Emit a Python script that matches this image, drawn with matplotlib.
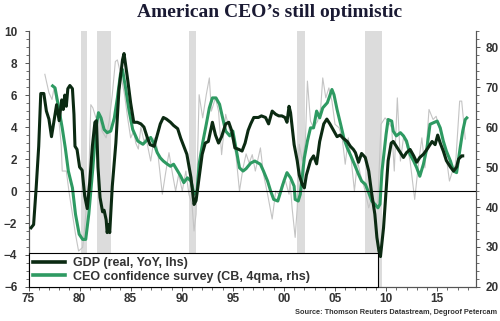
import matplotlib
matplotlib.use("Agg")
import matplotlib.pyplot as plt
from matplotlib.ticker import MultipleLocator, FuncFormatter

plt.rcParams["font.family"] = ["Liberation Sans", "DejaVu Sans"]

# --- dati -------------------------------------------------------------------
# PIL reale USA, variazione a/a (%), asse sinistro
gdp_year = [1975.25, 1975.5, 1975.75, 1976.0, 1976.2, 1976.5, 1976.75, 1977.0, 1977.25,
            1977.5, 1977.75, 1978.0, 1978.25, 1978.4, 1978.55, 1978.7, 1978.85, 1979.05,
            1979.3, 1979.45, 1979.55, 1979.75, 1980.0, 1980.25, 1980.5, 1980.75, 1981.0,
            1981.25, 1981.5, 1981.65, 1981.8, 1982.0, 1982.25, 1982.4, 1982.6, 1982.7,
            1982.85, 1982.95, 1983.2, 1983.55, 1983.85, 1984.2, 1984.35, 1984.7, 1985.0,
            1985.3, 1985.65, 1986.0, 1986.3, 1986.6, 1986.9, 1987.3, 1987.6, 1987.9,
            1988.2, 1988.5, 1988.9, 1989.2, 1989.6, 1989.9, 1990.2, 1990.5, 1990.9,
            1991.2, 1991.4, 1991.7, 1992.0, 1992.3, 1992.6, 1993.0, 1993.3, 1993.6,
            1993.9, 1994.3, 1994.6, 1994.9, 1995.2, 1995.6, 1995.9, 1996.2, 1996.5,
            1996.75, 1997.05, 1997.5, 1997.8, 1998.2, 1998.5, 1998.85, 1999.2, 1999.5,
            1999.8, 2000.1, 2000.3, 2000.5, 2000.65, 2001.0, 2001.3, 2001.5, 2001.8,
            2002.0, 2002.2, 2002.6, 2002.9, 2003.2, 2003.5, 2003.9, 2004.2, 2004.5,
            2004.9, 2005.2, 2005.5, 2005.8, 2006.2, 2006.5, 2006.8, 2007.0, 2007.3,
            2007.6, 2007.96, 2008.3, 2008.6, 2008.9, 2009.1, 2009.3, 2009.45, 2009.75,
            2010.0, 2010.2, 2010.5, 2010.7, 2011.0, 2011.4, 2011.7, 2012.0, 2012.35,
            2012.7, 2013.0, 2013.3, 2013.65, 2014.0, 2014.3, 2014.5, 2014.8, 2015.05,
            2015.3, 2015.6, 2015.9, 2016.3, 2016.6, 2016.9, 2017.1, 2017.4, 2017.5]
gdp_val = [-2.3, -2.1, 0.2, 2.8, 6.1, 6.1, 5.0, 4.5, 3.4,
           4.4, 5.4, 4.4, 5.7, 5.1, 6.0, 5.3, 6.4, 6.6,
           6.4, 4.8, 2.8, 2.6, 1.5, 1.3, -0.3, -1.1, 0.6,
           2.8, 4.3, 4.4, 1.5, -0.4, -1.3, -1.2, -1.8, -2.6,
           -2.1, -2.6, 0.3, 3.0, 6.3, 8.2, 8.6, 7.0, 5.5,
           4.3, 4.3, 4.2, 4.0, 3.4, 2.9, 2.8, 3.5, 4.2,
           4.6, 4.5, 4.3, 4.1, 3.9, 3.3, 2.8, 2.3, 0.85,
           -0.84, -0.6, 0.85, 2.3, 3.0, 3.1, 4.3, 3.5, 3.0,
           3.4, 4.2, 4.3, 3.75, 2.7, 2.6, 2.5, 3.0, 3.8,
           4.2, 4.6, 4.6, 4.7, 4.6, 4.2, 5.0, 4.8, 4.7,
           4.7, 4.6, 4.3, 5.3, 4.9, 2.9, 1.9, 1.0, 0.4,
           0.2, 1.0, 1.9, 2.2, 1.7, 3.1, 4.2, 4.5, 4.2,
           3.75, 3.4, 3.5, 3.3, 3.1, 2.8, 2.6, 2.4, 1.8,
           2.35, 2.1, 1.25, -0.2, -1.45, -2.9, -3.75, -4.1, -2.3,
           0.0, 1.9, 3.0, 3.1, 2.8, 2.4, 2.1, 2.4, 2.6,
           2.2, 1.8, 2.1, 2.3, 2.6, 2.9, 3.1, 2.9, 3.5,
           3.0, 2.5, 1.9, 1.5, 1.25, 1.5, 2.0, 2.2, 2.2]

# CEO confidence (Conference Board), media mobile 4 trimestri, asse destro
ceo_ma_year = [1977.36, 1977.6, 1977.9, 1978.3, 1978.6, 1978.9, 1979.3, 1979.6, 1979.96,
               1980.3, 1980.6, 1980.9, 1981.3, 1981.6, 1981.85, 1982.1, 1982.4, 1982.7,
               1983.05, 1983.4, 1983.7, 1984.0, 1984.2, 1984.5, 1984.85, 1985.2, 1985.7,
               1986.2, 1986.5, 1986.96, 1987.3, 1987.6, 1987.9, 1988.2, 1988.6, 1988.9,
               1989.2, 1989.6, 1989.9, 1990.2, 1990.55, 1990.9, 1991.2, 1991.5, 1991.7,
               1992.05, 1992.4, 1992.7, 1993.0, 1993.35, 1993.7, 1994.0, 1994.3, 1994.7,
               1995.0, 1995.3, 1995.65, 1996.0, 1996.3, 1996.75, 1997.15, 1997.7, 1998.0,
               1998.4, 1998.7, 1999.0, 1999.4, 1999.7, 2000.0, 2000.3, 2000.65, 2001.0,
               2001.1, 2001.4, 2001.6, 2002.0, 2002.3, 2002.6, 2002.9, 2003.2, 2003.5,
               2003.8, 2004.25, 2004.7, 2004.9, 2005.2, 2005.55, 2005.9, 2006.2, 2006.5,
               2006.9, 2007.3, 2007.6, 2007.96, 2008.3, 2008.6, 2008.9, 2009.2, 2009.4,
               2009.6, 2010.0, 2010.2, 2010.55, 2010.7, 2011.0, 2011.4, 2011.7, 2012.0,
               2012.35, 2012.7, 2013.0, 2013.3, 2013.65, 2014.0, 2014.3, 2014.65, 2015.0,
               2015.3, 2015.6, 2015.9, 2016.3, 2016.6, 2016.9, 2017.25, 2017.5, 2017.75,
               2017.9]
ceo_ma_val = [70.3, 69.8, 65.6, 59.8, 54.8, 49.0, 44.8, 38.2, 33.2,
              31.9, 31.9, 38.2, 49.8, 59.8, 63.6, 62.3, 59.4, 58.6,
              59.0, 62.3, 67.3, 73.2, 74.4, 69.8, 64.0, 59.4, 56.5,
              55.7, 56.5, 57.4, 55.7, 53.6, 52.3, 51.5, 50.7, 50.2,
              50.7, 49.0, 47.7, 46.1, 47.3, 46.5, 43.2, 44.0, 50.7,
              56.1, 60.7, 64.8, 67.3, 67.3, 65.7, 62.3, 59.0, 57.8,
              59.0, 54.8, 49.8, 49.0, 49.6, 51.0, 51.5, 50.7, 49.0,
              46.5, 44.0, 41.9, 41.5, 44.0, 46.5, 48.6, 47.3, 45.2,
              41.9, 41.5, 43.2, 52.3, 56.5, 59.8, 59.8, 64.0, 62.3,
              64.8, 66.1, 69.4, 68.1, 64.4, 60.7, 56.9, 54.8, 53.1,
              50.7, 48.2, 46.5, 45.7, 43.6, 41.5, 40.7, 39.8, 40.7,
              49.0, 58.2, 61.9, 61.5, 59.0, 57.8, 58.6, 57.8, 56.5,
              53.1, 51.5, 49.8, 47.7, 50.7, 54.8, 60.7, 61.1, 61.5,
              59.8, 56.5, 54.0, 51.5, 49.0, 48.6, 54.8, 59.0, 61.9,
              62.3]

# CEO confidence trimestrale (linea grigia), asse destro
ceo_q_year = [1976.6, 1977.0, 1977.3, 1977.5, 1977.85, 1978.2, 1978.3, 1978.7, 1979.0,
              1979.3, 1979.6, 1979.9, 1980.3, 1980.5, 1980.9, 1981.1, 1981.3, 1981.6,
              1981.9, 1982.2, 1982.6, 1982.9, 1983.2, 1983.5, 1983.7, 1984.0, 1984.4,
              1984.7, 1985.0, 1985.3, 1985.5, 1985.75, 1986.0, 1986.3, 1986.5, 1986.96,
              1987.3, 1987.6, 1988.1, 1988.4, 1988.75, 1989.1, 1989.4, 1989.7, 1990.05,
              1990.4, 1990.7, 1991.0, 1991.2, 1991.4, 1991.7, 1992.05, 1992.4, 1992.7,
              1992.9, 1993.3, 1993.6, 1993.9, 1994.3, 1994.7, 1995.0, 1995.3, 1995.65,
              1996.0, 1996.3, 1996.6, 1996.9, 1997.2, 1997.7, 1998.0, 1998.4, 1998.85,
              1999.2, 1999.5, 1999.8, 2000.15, 2000.5, 2000.6, 2000.8, 2001.1, 2001.3,
              2001.5, 2001.8, 2002.1, 2002.3, 2002.6, 2002.9, 2003.3, 2003.6, 2003.8,
              2004.1, 2004.4, 2004.7, 2005.0, 2005.4, 2005.7, 2006.0, 2006.3, 2006.6,
              2006.9, 2007.2, 2007.5, 2007.9, 2008.3, 2008.6, 2008.9, 2009.2, 2009.5,
              2009.9, 2010.2, 2010.55, 2010.8, 2011.1, 2011.4, 2011.7, 2012.0, 2012.35,
              2012.8, 2013.2, 2013.5, 2013.8, 2014.2, 2014.6, 2014.9, 2015.2, 2015.5,
              2015.9, 2016.2, 2016.5, 2016.8, 2017.2, 2017.4, 2017.75]
ceo_q_val = [73.2, 68.6, 66.9, 69.8, 64.8, 55.7, 49.0, 49.0, 43.2,
             38.2, 33.2, 29.0, 29.9, 34.9, 47.3, 65.6, 64.8, 62.3,
             63.6, 59.0, 57.3, 61.5, 68.1, 76.4, 76.8, 73.5, 68.1,
             62.3, 57.3, 59.0, 56.0, 54.5, 60.0, 56.5, 57.3, 51.5,
             57.3, 54.8, 43.2, 48.2, 53.6, 48.2, 44.0, 48.2, 44.0,
             49.0, 43.2, 40.7, 34.0, 38.2, 68.1, 62.3, 68.1, 72.3,
             64.0, 67.3, 64.0, 53.1, 63.2, 59.0, 56.5, 53.1, 44.0,
             49.8, 53.3, 51.0, 53.1, 49.0, 54.8, 48.2, 43.2, 37.0,
             44.0, 43.2, 45.7, 46.5, 43.2, 46.5, 39.8, 32.4, 39.8,
             55.7, 51.5, 56.5, 71.5, 61.5, 59.8, 61.5, 64.8, 72.3,
             67.3, 69.8, 66.5, 60.7, 59.8, 57.3, 50.7, 57.3, 51.5,
             44.0, 51.5, 48.0, 44.5, 39.8, 42.3, 39.8, 41.5, 60.7,
             62.3, 61.5, 59.8, 49.0, 67.3, 51.5, 57.3, 55.7, 51.5,
             41.9, 51.5, 57.3, 49.8, 64.4, 61.9, 62.7, 59.8, 57.3,
             52.3, 46.5, 49.0, 50.7, 66.5, 66.5, 57.0]

# recessioni (inizio, fine)
rec_start = [1980.13, 1981.66, 1990.7, 2001.3, 2007.96]
rec_end = [1980.7, 1983.12, 1991.36, 2002.1, 2009.6]

C_GDP = "#0b2a12"
C_CEO = "#2e9a62"
C_RAW = "#c4c4c4"
C_REC = "#dcdcdc"
C_TXT = "#333333"

fig = plt.figure(figsize=(5.0, 3.21), dpi=100)
ax = fig.add_axes([0.057, 0.106, 0.895, 0.797])
ax2 = ax.twinx()
ax.set_zorder(ax2.get_zorder() + 1)
ax.patch.set_visible(False)

# asse destro: recessioni + fiducia CEO
for s, e in zip(rec_start, rec_end):
    ax2.axvspan(s, e, color=C_REC, lw=0, zorder=0)
ax2.plot(ceo_q_year, ceo_q_val, color=C_RAW, lw=0.8, zorder=1)
ax2.plot(ceo_ma_year, ceo_ma_val, color=C_CEO, lw=2.2, zorder=2)

# asse sinistro: PIL
ax.axhline(0, color="black", lw=0.8, zorder=1)
ax.plot(gdp_year, gdp_val, color=C_GDP, lw=2.2, zorder=3)

ax.set_xlim(1975, 2018.8)
ax.set_ylim(-6, 10)
ax2.set_ylim(20, 84)

ax.xaxis.set_major_locator(MultipleLocator(5))
ax.xaxis.set_minor_locator(MultipleLocator(1))
ax.xaxis.set_major_formatter(FuncFormatter(lambda v, p: f"{int(v) % 100:02d}"))
ax.yaxis.set_major_locator(MultipleLocator(2))
ax.yaxis.set_minor_locator(MultipleLocator(0.5))
ax2.yaxis.set_major_locator(MultipleLocator(10))
ax2.yaxis.set_minor_locator(MultipleLocator(2))

for a in (ax, ax2):
    a.spines["top"].set_visible(False)
    for sp in a.spines.values():
        sp.set_color("#555555")
        sp.set_linewidth(0.8)
    a.tick_params(which="major", length=3, width=0.7, color="#555555",
                  labelsize=8.5, labelcolor=C_TXT)
    a.tick_params(which="minor", length=2, width=0.6, color="#555555")
ax.tick_params(axis="y", pad=5)
ax.tick_params(axis="x", pad=1.5)
ax2.tick_params(axis="y", pad=4)
for lab in ax.get_xticklabels() + ax.get_yticklabels() + ax2.get_yticklabels():
    lab.set_fontweight("bold")

leg_handles = [plt.Line2D([], [], color=C_GDP, lw=2.6),
               plt.Line2D([], [], color=C_CEO, lw=2.6)]
leg = ax.legend(leg_handles, ["GDP (real, YoY, lhs)", "CEO confidence survey (CB, 4qma, rhs)"],
                loc="lower left", bbox_to_anchor=(0.0, 0.0, 0.78, 0.137), mode="expand",
                prop={"weight": "bold", "size": 9}, frameon=True,
                fancybox=False, framealpha=1, edgecolor="black", borderpad=0.35,
                labelspacing=0.12, handlelength=2.6, handletextpad=0.6,
                borderaxespad=0)
leg.get_frame().set_linewidth(0.8)
for t in leg.get_texts():
    t.set_color(C_TXT)

fig.text(0.54, 0.96, "American CEO\u2019s still optimistic", ha="center", va="center",
         family="Liberation Serif", fontsize=14, fontweight="bold", color="#1a1a33")
fig.text(0.994, 0.028, "Source: Thomson Reuters Datastream, Degroof Petercam",
         ha="right", va="center", fontsize=5.3, fontweight="bold", color=C_TXT)

fig.savefig("out.png", dpi=100)
